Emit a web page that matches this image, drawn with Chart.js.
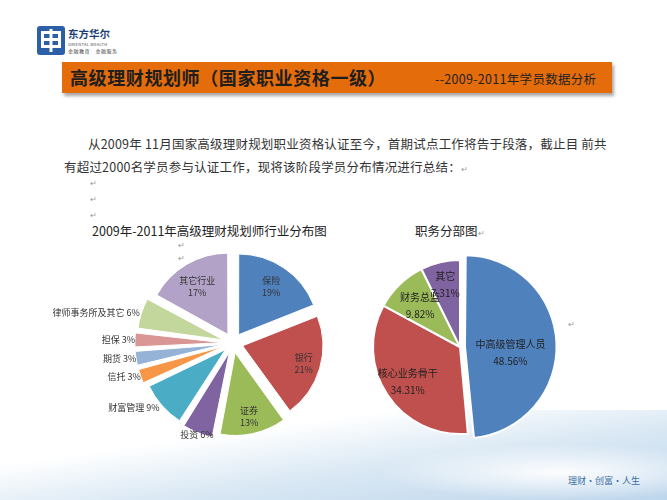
<!DOCTYPE html>
<html>
<head>
<meta charset="utf-8">
<script src="https://cdn.jsdelivr.net/npm/chart.js@4.4.1/dist/chart.umd.min.js"></script>
<style>
body{margin:0;width:667px;height:500px;overflow:hidden;background:#fff;position:relative;font-family:"Noto Sans CJK SC","Noto Sans",sans-serif;}
.abs{position:absolute;white-space:nowrap;}
#swoosh{left:0;top:410px;width:667px;height:90px;
  background:
   radial-gradient(ellipse 260px 40px at 560px 62px, rgba(255,255,255,0.95), rgba(255,255,255,0) 70%),
   linear-gradient(172deg, rgba(255,255,255,0) 30%, rgba(214,230,243,0.9) 60%, rgba(190,214,236,1) 100%);}
#banner{left:62px;top:62px;width:550px;height:31px;background:#e46c0a;box-shadow:2px 3px 3px rgba(0,0,0,0.35);}
#title{left:70px;top:64px;font-size:18px;font-weight:700;color:#1e1e1e;letter-spacing:0.6px;}
#subtitle{left:435px;top:69px;font-size:12.5px;color:#222;letter-spacing:0.3px;}
.para{font-size:12.5px;color:#333;letter-spacing:0.2px;}
.ret{font-size:8px;color:#999;}
.ctitle{font-size:12.5px;color:#222;}
#slogan{left:568px;top:474px;font-size:9px;color:#3d6ea8;}
#logotext{left:68px;top:26px;font-size:10.5px;font-weight:700;color:#1d3f73;}
#logoen{left:68px;top:41px;font-size:4px;color:#444;letter-spacing:0.3px;}
#logocn{left:68px;top:47px;font-size:5px;color:#444;letter-spacing:0.5px;}
#leftBox{left:50px;top:225px;width:300px;height:225px;}
#rightBox{left:350px;top:225px;width:250px;height:235px;}
</style>
</head>
<body>
<div id="swoosh" class="abs"></div>
<svg class="abs" style="left:37px;top:26px" width="28" height="29" viewBox="0 0 28 29">
  <rect x="0" y="0" width="28" height="29" rx="3" fill="#2b5fa8"/>
  <rect x="4" y="5" width="20" height="3" fill="#fff"/>
  <rect x="4" y="12" width="20" height="3" fill="#fff"/>
  <rect x="4" y="19" width="20" height="3" fill="#fff"/>
  <rect x="12.5" y="3" width="3" height="23" fill="#fff"/>
  <rect x="4" y="5" width="3" height="17" fill="#fff"/>
  <rect x="21" y="5" width="3" height="17" fill="#fff"/>
</svg>
<div id="logotext" class="abs">东方华尔</div>
<div id="logoen" class="abs">ORIENTAL WEALTH</div>
<div id="logocn" class="abs">金融教育　金融服务</div>

<div id="banner" class="abs"></div>
<div id="title" class="abs">高级理财规划师（国家职业资格一级）</div>
<div id="subtitle" class="abs">--2009-2011年学员数据分析</div>

<div class="abs para" style="left:88px;top:134px">从2009年 11月国家高级理财规划职业资格认证至今，首期试点工作将告于段落，截止目 前共</div>
<div class="abs para" style="left:64px;top:157px">有超过2000名学员参与认证工作，现将该阶段学员分布情况进行总结：<span class="ret">↵</span></div>
<div class="abs ret" style="left:90px;top:177px">↵</div>
<div class="abs ret" style="left:90px;top:193px">↵</div>
<div class="abs ret" style="left:90px;top:209px">↵</div>
<div class="abs ctitle" style="left:92px;top:221px">2009年-2011年高级理财规划师行业分布图</div>
<div class="abs ctitle" style="left:415px;top:221px">职务分部图<span class="ret">↵</span></div>
<div class="abs ret" style="left:178px;top:239px">↵</div>
<div class="abs ret" style="left:178px;top:252px">↵</div>
<div class="abs ret" style="left:568px;top:318px">↵</div>

<div id="leftBox" class="abs"><canvas id="industryChart"></canvas></div>
<div id="rightBox" class="abs"><canvas id="positionChart"></canvas></div>

<div id="slogan" class="abs">理财・创富・人生</div>

<script>
// 行业分布（%）
const industryNames = ['保险', '银行', '证券', '投资', '财富管理', '信托', '期货', '担保', '律师事务所及其它', '其它行业'];
const industryValues = [19, 21, 13, 6, 9, 3, 3, 3, 6, 17];
const industryColors = ['#4f81bd', '#c0504d', '#9bbb59', '#8064a2', '#4bacc6', '#f79646', '#95b3d7', '#d99694', '#c3d69b', '#b3a2c7'];
const industryInside = [true, true, true, false, false, false, false, false, false, true];
const industryLabelR = [0.85, 0.92, 0.92, 0, 0, 0, 0, 0, 0, 0.88];
const industryLabelDy = [0, 0, 2, 0, 0, 0, 0, 0, 0, 4];

// 职务分布（%）
const positionNames = ['中高级管理人员', '核心业务骨干', '财务总监', '其它'];
const positionValues = [48.56, 34.31, 9.82, 7.31];
const positionColors = ['#4f81bd', '#c0504d', '#9bbb59', '#8064a2'];
const positionLabelR = [0.58, 0.72, 0.66, 0.74];
const positionLabelDy = [8, 0, 0, 0];

const sliceLabels = {
  id: 'sliceLabels',
  afterDatasetsDraw(chart, args, opts) {
    const ctx = chart.ctx;
    const meta = chart.getDatasetMeta(0);
    const vals = chart.data.datasets[0].data;
    const names = chart.data.labels;
    ctx.save();
    ctx.font = opts.font;
    ctx.fillStyle = opts.color;
    ctx.textBaseline = 'middle';
    meta.data.forEach((arc, i) => {
      const mid = (arc.startAngle + arc.endAngle) / 2;
      const c = Math.cos(mid), s = Math.sin(mid);
      const pct = opts.format(vals[i]);
      if (opts.inside[i]) {
        const r = arc.outerRadius * opts.radius[i];
        const x = arc.x + c * r, y = arc.y + s * r + opts.dy[i];
        ctx.textAlign = 'center';
        ctx.fillText(names[i], x, y - opts.gap / 2);
        ctx.fillText(pct, x, y + opts.gap / 2);
      } else {
        const r = arc.outerRadius + opts.outside;
        const x = arc.x + c * r, y = arc.y + s * r;
        ctx.textAlign = Math.abs(c) < 0.5 ? 'center' : (c < 0 ? 'right' : 'left');
        ctx.fillText(names[i] + ' ' + pct, x, y);
      }
    });
    ctx.restore();
  }
};

new Chart(document.getElementById('industryChart'), {
  type: 'pie',
  plugins: [sliceLabels],
  data: {
    labels: industryNames,
    datasets: [{
      data: industryValues,
      backgroundColor: industryColors,
      borderColor: '#ffffff',
      borderWidth: 1,
      offset: 40
    }]
  },
  options: {
    responsive: true,
    maintainAspectRatio: false,
    animation: false,
    radius: 80,
    layout: { padding: { left: 78, right: 12, top: 13, bottom: 2 } },
    plugins: {
      legend: { display: false },
      tooltip: { enabled: false },
      sliceLabels: {
        font: '9px "Noto Sans CJK SC", sans-serif',
        color: '#333',
        inside: industryInside,
        radius: industryLabelR,
        dy: industryLabelDy,
        gap: 12,
        outside: 18,
        format: v => v + '%'
      }
    }
  }
});

new Chart(document.getElementById('positionChart'), {
  type: 'pie',
  plugins: [sliceLabels],
  data: {
    labels: positionNames,
    datasets: [{
      data: positionValues,
      backgroundColor: positionColors,
      borderColor: '#ffffff',
      borderWidth: 2,
      offset: [20, 0, 0, 0]
    }]
  },
  options: {
    responsive: true,
    maintainAspectRatio: false,
    animation: false,
    radius: 87,
    layout: { padding: { left: 0, right: 30, top: 12, bottom: 3 } },
    plugins: {
      legend: { display: false },
      tooltip: { enabled: false },
      sliceLabels: {
        font: '10px "Noto Sans CJK SC", sans-serif',
        color: '#222',
        inside: [true, true, true, true],
        radius: positionLabelR,
        dy: positionLabelDy,
        gap: 17,
        outside: 0,
        format: v => v.toFixed(2) + '%'
      }
    }
  }
});
</script>
</body>
</html>
